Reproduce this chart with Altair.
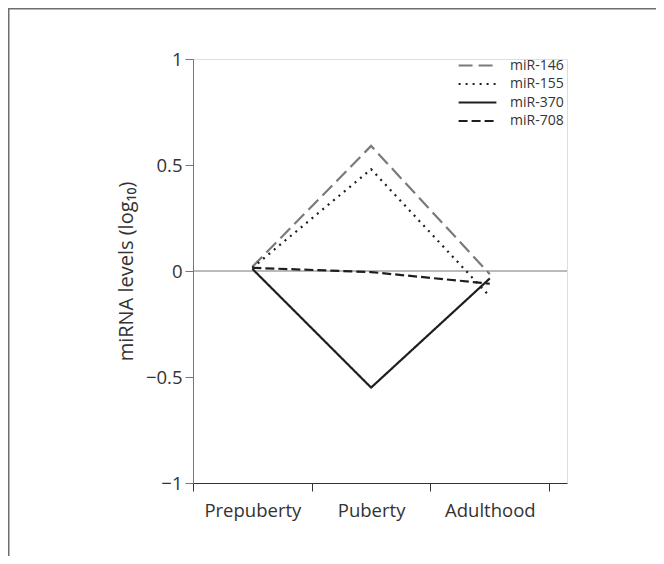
import altair as alt
import pandas as pd

stages = ["Prepuberty", "Puberty", "Adulthood"]
stage_pos = [0.5, 1.5, 2.5]
series_names = ["miR-146", "miR-155", "miR-370", "miR-708"]
mir146 = [0.02, 0.59, -0.015]
mir155 = [0.015, 0.48, -0.12]
mir370 = [0.01, -0.55, -0.035]
mir708 = [0.015, -0.005, -0.06]
y_ticks = [-1, -0.5, 0, 0.5, 1]
x_ticks = [0, 1, 2, 3]

series_colors = ["#7a7a7a", "#1e1e1e", "#1e1e1e", "#1e1e1e"]
series_dashes = [[14, 6], [2, 5], [1, 0], [9, 4]]

rows = []
for name, vals in zip(series_names, [mir146, mir155, mir370, mir708]):
    for s, p, v in zip(stages, stage_pos, vals):
        rows.append({"series": name, "stage": s, "pos": p, "value": v})
df = pd.DataFrame(rows)

W, H = 374, 424
PL, PT, PR, PB = 185, 51, 89, 73
FONT = "Open Sans"

label_expr = " : ".join(f"datum.value == {p} ? '{s}'" for p, s in zip(stage_pos, stages)) + " : ''"
x_values = sorted(x_ticks + stage_pos)

xscale = alt.Scale(domain=[0, 3.15], nice=False, zero=False)
yscale = alt.Scale(domain=[-1, 1], nice=False)

xaxis = alt.Axis(
    values=x_values, labelExpr=label_expr, title=None, grid=False,
    tickOpacity={"condition": {"test": "datum.value % 1 != 0", "value": 0}, "value": 1},
    tickSize=8, tickColor="#333333", domainColor="#333333", tickWidth=1, domainWidth=1,
    labelFont=FONT, labelFontSize=18.5, labelColor="#333333", labelPadding=10,
    labelFlush=False, labelOverlap=False,
)
yaxis = alt.Axis(
    values=y_ticks, format="~g", labelExpr="replace(datum.label, '-', '\u2212')",
    title="miRNA levels (log\u2081\u2080)", grid=False,
    tickSize=8, tickColor="#777777", domainColor="#777777", tickWidth=1, domainWidth=1,
    labelFont=FONT, labelFontSize=18.5, labelColor="#333333", labelPadding=3,
    titleFont=FONT, titleFontSize=20, titleFontWeight="normal", titleColor="#333333",
    titleX=-67, titleY=H / 2, titleAlign="center", titleBaseline="middle", titleAngle=270,
    labelFlush=False, labelOverlap=False,
)

legend = alt.Legend(
    title=None, orient="none", legendX=276, legendY=-2, padding=0,
    symbolType="M-2.7,0H2.7", symbolSize=196, symbolStrokeWidth=2.2,
    labelFont=FONT, labelFontSize=14, labelColor="#333333", labelOffset=24,
    rowPadding=2.5,
)

lines = alt.Chart(df).mark_line(strokeWidth=2.2, strokeCap="butt").encode(
    x=alt.X("pos:Q", scale=xscale, axis=xaxis),
    y=alt.Y("value:Q", scale=yscale, axis=yaxis),
    color=alt.Color("series:N", scale=alt.Scale(domain=series_names, range=series_colors), legend=legend),
    strokeDash=alt.StrokeDash("series:N", scale=alt.Scale(domain=series_names, range=series_dashes), legend=legend),
    order="pos:Q",
)

zero_rule = alt.Chart(pd.DataFrame({"y": [0]})).mark_rule(color="#777777", strokeWidth=1).encode(
    y=alt.Y("y:Q", scale=yscale)
)

frame_left = alt.Chart(pd.DataFrame({"a": [0]})).mark_rule(color="#6e6e6e", strokeWidth=1.5).encode(
    x=alt.value(-PL + 0.75), y=alt.value(-PT + 0.75), y2=alt.value(H + PB)
)
frame_top = alt.Chart(pd.DataFrame({"a": [0]})).mark_rule(color="#6e6e6e", strokeWidth=1.5).encode(
    x=alt.value(-PL), x2=alt.value(W + PR), y=alt.value(-PT + 0.75)
)

chart = alt.layer(zero_rule, lines, frame_left, frame_top).properties(
    width=W, height=H,
    padding={"left": PL, "top": PT, "right": PR, "bottom": PB},
    autosize=alt.AutoSizeParams(type="none"),
).configure_view(stroke="transparent").configure(font=FONT)

chart.save("out.html", embed_options={"renderer": "svg", "actions": False})
